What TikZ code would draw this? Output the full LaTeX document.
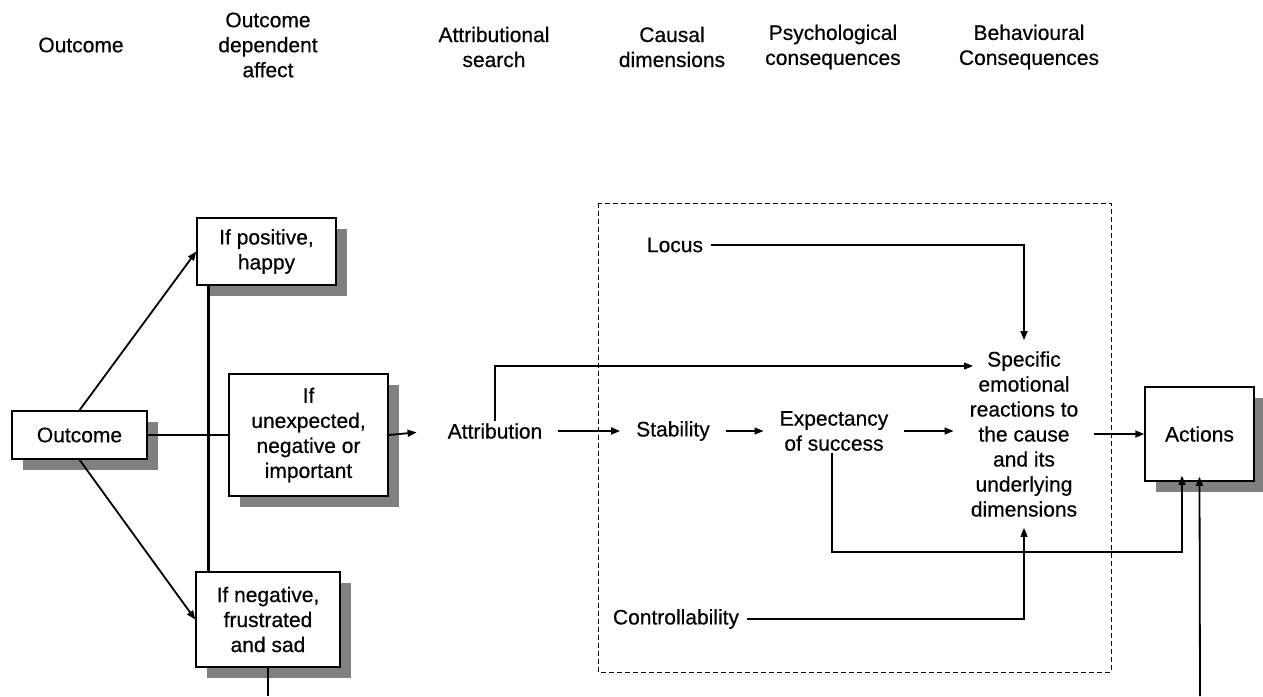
\documentclass[tikz,border=0pt]{standalone}
\usepackage{fontspec}
\setmainfont{Liberation Sans}[FakeBold=0.5]
\usetikzlibrary{arrows.meta,shadows,calc}
\begin{document}
\begin{tikzpicture}[x=1pt,y=-1pt,
  font=\fontsize{21}{25}\selectfont,
  shbox/.style={draw, fill=white, line width=1.5pt, align=center, inner sep=2pt,
    drop shadow={shadow xshift=11pt, shadow yshift=-11pt, fill=black!50, opacity=1}},
  lbl/.style={align=center, inner xsep=16pt, inner ysep=2pt},
  hdr/.style={align=center, inner sep=0pt},
  conn/.style={line width=1.8pt},
  arr/.style={line width=1.8pt, -{Triangle[length=9pt,width=7pt]}},
  thinarr/.style={line width=1.2pt, -{Triangle[length=9pt,width=7pt]}}
]
\useasboundingbox (0,0) rectangle (1263,696);
% headers
\node[hdr] (h1) at (81,45) {Outcome};
\node[hdr] (h2) at (268,45) {Outcome\\dependent\\affect};
\node[hdr] (h3) at (494,47) {Attributional\\search};
\node[hdr] (h4) at (672,47) {Causal\\dimensions};
\node[hdr] (h5) at (833,47) {Psychological\\consequences};
\node[hdr] (h6) at (1029,47) {Behavioural\\Consequences};
% dashed box
\draw[line width=1pt, dash pattern=on 5pt off 3pt] (598,203) rectangle (1111,672);
% boxes
\node[shbox, minimum width=135pt, minimum height=48pt] (outcome) at (79.5,435) {Outcome};
\node[shbox, minimum width=139pt, minimum height=67pt] (positive) at (266.5,251.5) {If positive,\\happy};
\node[shbox, minimum width=159pt, minimum height=122pt] (unexp) at (308.5,435) {If\\unexpected,\\negative or\\important};
\node[shbox, minimum width=144pt, minimum height=95pt] (negative) at (268,619.5) {If negative,\\frustrated\\and sad};
\node[shbox, minimum width=109pt, minimum height=94pt] (actions) at (1199.5,434) {Actions};
% text nodes
\node[lbl] (attribution) at (495,431) {Attribution};
\node[lbl] (stability) at (673,431) {Stability};
\node[lbl] (expect) at (834,431) {Expectancy\\of success};
\node[lbl, inner ysep=11pt] (specific) at (1024,434) {Specific\\emotional\\reactions to\\the cause\\and its\\underlying\\dimensions};
\node[lbl, inner xsep=8pt] (locus) at (675,245) {Locus};
\node[lbl, inner xsep=8pt] (control) at (676,619) {Controllability};
\coordinate (specin) at (973,366);
\coordinate (bend) at (1182,552);
\coordinate (bottomA) at (1200,696);
\coordinate (bottomN) at (268,696);
% connectors
\draw[arr] (outcome.north) -- (positive.west);
\draw[arr] (outcome.south) -- (negative.west);
\draw[conn] (outcome.east) -- (unexp.west);
\draw[line width=2.8pt] ([xshift=12pt]positive.south west) -- ([xshift=12pt]positive.south west |- negative.north);
\draw[conn] (negative.south) -- (bottomN);
\draw[arr, shorten >=15pt] (unexp.east) -- (attribution.west);
\draw[arr] (attribution.east) -- (stability.west);
\draw[thinarr] (stability.east) -- (expect.west);
\draw[thinarr] (expect.east) -- (expect.east -| specific.west);
\draw[arr] (specific.east) -- (specific.east -| actions.west);
\draw[thinarr] (attribution.north) |- (specin);
\draw[arr] (locus.east) -| (specific.north);
\draw[thinarr] (control.east) -| (specific.south);
\draw[thinarr, shorten >=-6pt] ([xshift=-2pt]expect.south) |- (bend) -- (bend |- actions.south);
\draw[arr, shorten >=-5pt] (bottomA) -- (actions.south);
\end{tikzpicture}
\end{document}
